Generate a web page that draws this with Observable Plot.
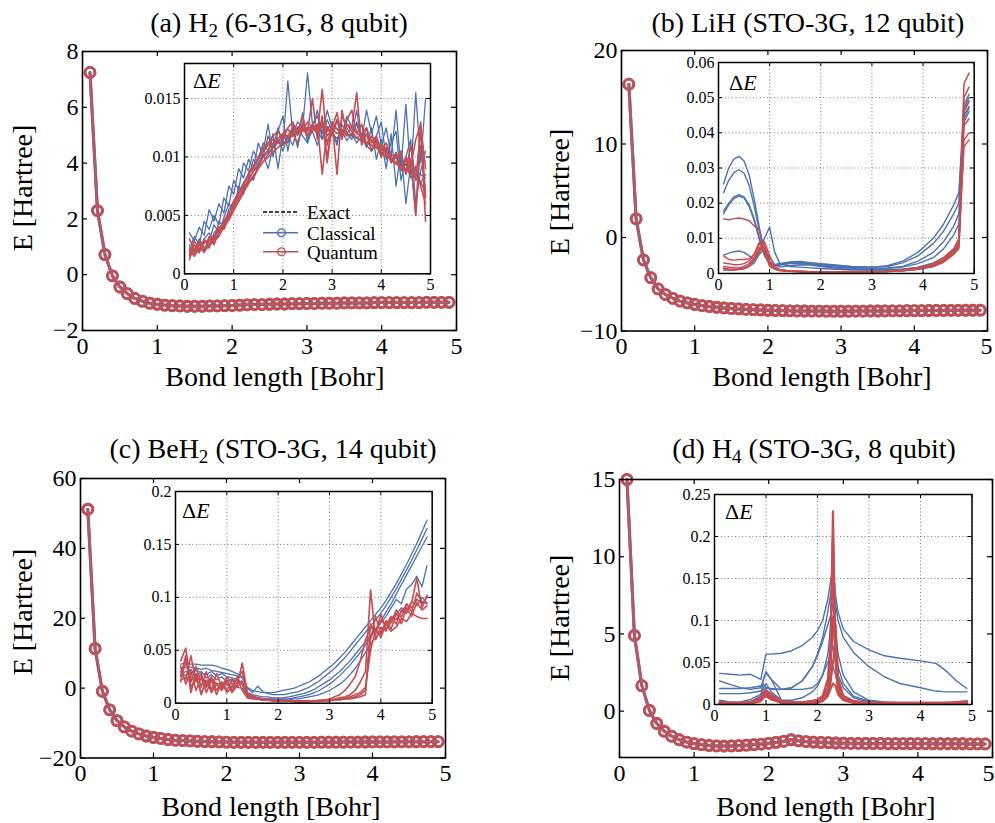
<!DOCTYPE html>
<html><head><meta charset="utf-8">
<script src="https://cdn.jsdelivr.net/npm/d3@7"></script>
<script src="https://cdn.jsdelivr.net/npm/@observablehq/plot@0.6"></script>
<style>
body{margin:0;background:#fff;}
#root{position:relative;width:995px;height:823px;overflow:hidden;font-family:"Liberation Serif","Times New Roman",serif;color:#000;}
.t{position:absolute;white-space:nowrap;line-height:1;}
.c{transform:translate(-50%,-50%);}
.r{transform:translate(-50%,-50%) rotate(-90deg);}
.l{transform:translate(0,-50%);}
sub{font-size:0.68em;vertical-align:-0.28em;line-height:0;}
</style></head>
<body><div id="root"></div>
<script>
const FONT = '"Liberation Serif","Times New Roman",serif';
const BLUE = "#4c72b0";
const RED = "#c44e52";

// ---------- tick labels ----------
const xTicksMain = [0, 1, 2, 3, 4, 5];
const xTicksInset = [0, 1, 2, 3, 4, 5];
const yTicksH2 = [-2, 0, 2, 4, 6, 8];
const yTicksLiH = [-10, 0, 10, 20];
const yTicksBeH2 = [-20, 0, 20, 40, 60];
const yTicksH4 = [0, 5, 10, 15];
const insetTicksH2 = [0, 0.005, 0.01, 0.015];
const insetTicksLiH = [0, 0.01, 0.02, 0.03, 0.04, 0.05, 0.06];
const insetTicksBeH2 = [0, 0.05, 0.1, 0.15, 0.2];
const insetTicksH4 = [0, 0.05, 0.1, 0.15, 0.2, 0.25];

// ---------- bond lengths [Bohr] ----------
const bondLength = [0.1,0.2,0.3,0.4,0.5,0.6,0.7,0.8,0.9,1.0,
  1.1,1.2,1.3,1.4,1.5,1.6,1.7,1.8,1.9,2.0,
  2.1,2.2,2.3,2.4,2.5,2.6,2.7,2.8,2.9,3.0,
  3.1,3.2,3.3,3.4,3.5,3.6,3.7,3.8,3.9,4.0,
  4.1,4.2,4.3,4.4,4.5,4.6,4.7,4.8,4.9];

// ---------- energies [Hartree] (exact / classical / quantum coincide at this scale) ----------
const energyH2 = [7.25,2.30,0.72,-0.04,-0.44,-0.68,-0.85,-0.95,-1.02,-1.06,
  -1.09,-1.11,-1.12,-1.13,-1.13,-1.13,-1.12,-1.12,-1.11,-1.10,
  -1.09,-1.08,-1.07,-1.07,-1.06,-1.05,-1.05,-1.04,-1.04,-1.03,
  -1.03,-1.02,-1.02,-1.02,-1.01,-1.01,-1.01,-1.01,-1.00,-1.00,
  -1.00,-1.00,-1.00,-1.00,-1.00,-0.99,-0.99,-0.99,-0.99];
const energyLiH = [16.4,2.0,-2.4,-4.3,-5.5,-6.1,-6.5,-6.8,-7.0,-7.15,
  -7.28,-7.38,-7.46,-7.53,-7.59,-7.64,-7.68,-7.72,-7.75,-7.78,
  -7.80,-7.82,-7.84,-7.85,-7.86,-7.87,-7.87,-7.88,-7.88,-7.88,
  -7.88,-7.87,-7.87,-7.86,-7.86,-7.85,-7.84,-7.84,-7.83,-7.82,
  -7.82,-7.81,-7.80,-7.80,-7.79,-7.79,-7.78,-7.78,-7.77];
const energyBeH2 = [51.2,11.3,-0.9,-6.2,-9.3,-11.1,-12.3,-13.1,-13.7,-14.1,
  -14.4,-14.7,-14.9,-15.0,-15.1,-15.2,-15.3,-15.35,-15.4,-15.45,
  -15.5,-15.5,-15.5,-15.5,-15.5,-15.5,-15.5,-15.5,-15.5,-15.5,
  -15.5,-15.5,-15.48,-15.47,-15.46,-15.45,-15.44,-15.43,-15.42,-15.41,
  -15.4,-15.39,-15.38,-15.37,-15.36,-15.35,-15.34,-15.33,-15.32];
const energyH4 = [15.0,4.9,1.65,0.05,-0.8,-1.3,-1.62,-1.85,-2.0,-2.1,
  -2.17,-2.22,-2.25,-2.26,-2.25,-2.23,-2.20,-2.17,-2.13,-2.08,
  -2.02,-1.95,-1.85,-1.92,-1.97,-2.0,-2.02,-2.04,-2.06,-2.07,
  -2.08,-2.08,-2.09,-2.09,-2.09,-2.10,-2.10,-2.10,-2.10,-2.10,
  -2.10,-2.11,-2.11,-2.11,-2.11,-2.11,-2.12,-2.12,-2.12];

// ---------- inset ΔE, H2 (x = bondLength) ----------
const dE_H2_classical = [
 [.0035,.0028,.0040,.0033,.0055,.0045,.0060,.0052,.0075,.0068,
  .0090,.0082,.0098,.0090,.0112,.0100,.0118,.0108,.0125,.0110,
  .0165,.0120,.0130,.0125,.0172,.0128,.0135,.0120,.0140,.0125,
  .0130,.0118,.0135,.0125,.0128,.0115,.0140,.0120,.0135,.0110,
  .0125,.0100,.0140,.0090,.0145,.0085,.0155,.0095,.0150],
 [.0020,.0032,.0025,.0045,.0038,.0050,.0042,.0065,.0058,.0080,
  .0072,.0095,.0088,.0105,.0098,.0112,.0105,.0120,.0090,.0118,
  .0112,.0125,.0108,.0130,.0115,.0122,.0110,.0130,.0118,.0124,
  .0112,.0128,.0120,.0115,.0130,.0118,.0108,.0125,.0098,.0115,
  .0090,.0120,.0075,.0105,.0060,.0095,.0050,.0110,.0070],
 [.0015,.0022,.0018,.0030,.0035,.0028,.0045,.0040,.0055,.0062,
  .0070,.0078,.0085,.0080,.0095,.0102,.0090,.0110,.0115,.0105,
  .0118,.0110,.0125,.0118,.0112,.0128,.0122,.0115,.0126,.0120,
  .0116,.0122,.0114,.0120,.0112,.0118,.0110,.0105,.0112,.0100,
  .0106,.0095,.0100,.0088,.0094,.0082,.0090,.0078,.0085],
 [.0025,.0015,.0030,.0022,.0028,.0042,.0035,.0048,.0060,.0055,
  .0075,.0068,.0082,.0098,.0092,.0105,.0128,.0100,.0122,.0135,
  .0105,.0128,.0118,.0138,.0112,.0125,.0140,.0115,.0132,.0122,
  .0110,.0135,.0125,.0118,.0140,.0112,.0125,.0105,.0118,.0130,
  .0098,.0112,.0122,.0080,.0100,.0115,.0060,.0088,.0105],
 [.0018,.0025,.0020,.0028,.0025,.0032,.0038,.0045,.0050,.0058,
  .0065,.0072,.0080,.0088,.0094,.0100,.0104,.0108,.0112,.0115,
  .0118,.0120,.0122,.0124,.0125,.0126,.0127,.0127,.0126,.0125,
  .0124,.0122,.0120,.0118,.0116,.0114,.0112,.0110,.0108,.0106,
  .0104,.0102,.0100,.0097,.0094,.0091,.0088,.0085,.0082]];
const dE_H2_quantum = [
 [.0022,.0018,.0025,.0020,.0028,.0030,.0035,.0042,.0050,.0060,
  .0068,.0075,.0085,.0090,.0098,.0105,.0110,.0115,.0112,.0120,
  .0118,.0125,.0120,.0128,.0122,.0150,.0115,.0135,.0095,.0130,
  .0085,.0140,.0120,.0125,.0155,.0110,.0120,.0105,.0115,.0100,
  .0108,.0095,.0102,.0090,.0098,.0085,.0092,.0075,.0060],
 [.0012,.0025,.0018,.0030,.0022,.0035,.0040,.0038,.0048,.0055,
  .0062,.0070,.0078,.0082,.0090,.0096,.0102,.0108,.0114,.0110,
  .0116,.0120,.0112,.0125,.0118,.0122,.0128,.0085,.0126,.0118,
  .0132,.0122,.0128,.0125,.0120,.0118,.0112,.0115,.0108,.0110,
  .0102,.0098,.0095,.0090,.0088,.0110,.0080,.0125,.0045],
 [.0030,.0020,.0028,.0018,.0032,.0026,.0038,.0045,.0052,.0058,
  .0065,.0073,.0080,.0088,.0092,.0100,.0106,.0112,.0116,.0120,
  .0124,.0118,.0126,.0122,.0130,.0125,.0120,.0158,.0110,.0130,
  .0124,.0118,.0128,.0122,.0116,.0120,.0125,.0112,.0118,.0106,
  .0112,.0100,.0094,.0105,.0085,.0098,.0050,.0130,.0065],
 [.0020,.0015,.0022,.0019,.0024,.0028,.0032,.0040,.0046,.0054,
  .0062,.0070,.0077,.0084,.0090,.0096,.0100,.0104,.0108,.0112,
  .0115,.0118,.0120,.0122,.0123,.0125,.0124,.0126,.0122,.0124,
  .0120,.0122,.0118,.0120,.0116,.0114,.0112,.0110,.0108,.0104,
  .0100,.0098,.0094,.0092,.0090,.0086,.0082,.0078,.0070],
 [.0016,.0028,.0022,.0026,.0030,.0025,.0036,.0044,.0050,.0062,
  .0070,.0076,.0086,.0092,.0100,.0108,.0112,.0118,.0122,.0115,
  .0125,.0130,.0120,.0135,.0118,.0128,.0122,.0130,.0100,.0125,
  .0138,.0115,.0132,.0140,.0120,.0128,.0110,.0118,.0112,.0102,
  .0108,.0096,.0104,.0090,.0100,.0092,.0115,.0128,.0090]];

// ---------- inset ΔE, LiH ----------
const bondLengthLiH = [0.1,0.2,0.3,0.4,0.5,0.6,0.7,0.8,0.9,1.0,1.1,1.2,1.4,1.6,1.8,2.0,2.3,2.6,3.0,3.3,3.6,3.9,4.2,4.4,4.6,4.7,4.8,4.9];
const dE_LiH_classical = [
 [.0255,.0300,.0325,.0333,.0320,.0280,.0210,.0130,.0060,.0030,.0025,.0028,.0032,.0032,.0029,.0026,.0022,.0019,.0018,.0022,.0035,.0060,.0100,.0140,.0195,.0230,.0480,.0510],
 [.0230,.0265,.0287,.0295,.0285,.0250,.0190,.0120,.0055,.0030,.0025,.0028,.0033,.0034,.0031,.0028,.0024,.0020,.0018,.0020,.0030,.0050,.0085,.0120,.0170,.0200,.0470,.0500],
 [.0170,.0195,.0213,.0220,.0215,.0190,.0150,.0095,.0050,.0028,.0022,.0025,.0030,.0030,.0027,.0024,.0020,.0017,.0015,.0016,.0020,.0035,.0060,.0090,.0135,.0170,.0460,.0490],
 [.0178,.0200,.0218,.0224,.0218,.0195,.0155,.0100,.0055,.0030,.0022,.0024,.0028,.0028,.0026,.0022,.0018,.0015,.0013,.0014,.0018,.0028,.0045,.0070,.0110,.0140,.0450,.0475],
 [.0052,.0058,.0062,.0064,.0060,.0050,.0040,.0060,.0100,.0132,.0060,.0028,.0020,.0018,.0016,.0014,.0012,.0010,.0010,.0010,.0012,.0018,.0030,.0045,.0070,.0090,.0440,.0470],
 [.0012,.0010,.0010,.0012,.0015,.0020,.0030,.0055,.0070,.0045,.0025,.0018,.0022,.0025,.0024,.0020,.0015,.0012,.0010,.0010,.0012,.0016,.0025,.0038,.0060,.0080,.0430,.0460]];
const dE_LiH_quantum = [
 [.0155,.0153,.0156,.0158,.0155,.0150,.0135,.0125,.0060,.0020,.0012,.0008,.0006,.0005,.0005,.0005,.0005,.0005,.0005,.0006,.0008,.0012,.0020,.0032,.0055,.0075,.0380,.0400],
 [.0050,.0040,.0038,.0040,.0040,.0042,.0055,.0090,.0070,.0030,.0015,.0010,.0007,.0006,.0005,.0005,.0005,.0005,.0005,.0006,.0009,.0015,.0025,.0040,.0065,.0085,.0540,.0570],
 [.0030,.0028,.0025,.0025,.0028,.0035,.0055,.0085,.0065,.0028,.0014,.0009,.0007,.0006,.0005,.0005,.0005,.0005,.0005,.0006,.0008,.0013,.0022,.0036,.0060,.0090,.0500,.0530],
 [.0015,.0013,.0012,.0012,.0015,.0022,.0040,.0070,.0080,.0035,.0015,.0010,.0007,.0006,.0005,.0005,.0005,.0005,.0006,.0007,.0010,.0016,.0028,.0045,.0070,.0100,.0420,.0440],
 [.0010,.0010,.0010,.0011,.0013,.0020,.0038,.0060,.0090,.0050,.0020,.0010,.0007,.0006,.0005,.0005,.0005,.0005,.0005,.0006,.0009,.0014,.0024,.0038,.0062,.0080,.0360,.0380],
 [.0020,.0018,.0016,.0016,.0020,.0028,.0045,.0075,.0060,.0025,.0013,.0009,.0007,.0006,.0005,.0005,.0005,.0005,.0005,.0006,.0008,.0012,.0020,.0033,.0055,.0070,.0460,.0490]];

// ---------- inset ΔE, BeH2 (x = bondLength) ----------
const dE_BeH2_classical = [
 [.037,.038,.037,.037,.036,.036,.036,.035,.033,.032,
  .030,.028,.025,.015,.012,.011,.010,.010,.010,.011,
  .012,.013,.014,.016,.018,.020,.023,.026,.030,.034,
  .038,.043,.048,.054,.060,.066,.072,.078,.084,.090,
  .097,.105,.113,.122,.131,.141,.151,.162,.173],
 [.033,.034,.034,.033,.032,.033,.031,.030,.029,.028,
  .027,.026,.024,.014,.010,.016,.011,.009,.008,.008,
  .008,.009,.010,.011,.013,.015,.018,.021,.025,.029,
  .033,.038,.043,.049,.055,.061,.067,.073,.079,.085,
  .092,.100,.108,.117,.126,.135,.145,.155,.165],
 [.027,.030,.028,.031,.029,.027,.030,.026,.028,.025,
  .024,.022,.020,.010,.008,.007,.006,.006,.005,.005,
  .005,.006,.007,.008,.009,.011,.013,.016,.019,.022,
  .026,.030,.035,.040,.046,.052,.058,.064,.070,.076,
  .082,.090,.098,.094,.108,.112,.120,.110,.130],
 [.022,.024,.025,.023,.022,.021,.020,.019,.018,.017,
  .016,.015,.014,.008,.006,.005,.004,.004,.004,.004,
  .004,.004,.005,.006,.007,.008,.010,.012,.015,.018,
  .022,.026,.031,.036,.042,.048,.055,.062,.070,.078,
  .086,.094,.103,.112,.121,.130,.139,.148,.157],
 [.030,.026,.032,.025,.030,.024,.027,.022,.025,.020,
  .023,.019,.021,.007,.005,.004,.003,.003,.003,.003,
  .003,.003,.004,.004,.005,.006,.007,.008,.010,.012,
  .015,.018,.022,.027,.033,.040,.048,.056,.062,.068,
  .074,.080,.084,.090,.088,.096,.092,.100,.095]];
const dE_BeH2_quantum = [
 [.040,.052,.020,.035,.015,.030,.012,.028,.015,.025,
  .018,.022,.030,.008,.006,.005,.004,.003,.003,.002,
  .002,.002,.002,.002,.002,.002,.002,.003,.003,.003,
  .004,.005,.006,.008,.012,.020,.030,.107,.060,.072,
  .068,.080,.075,.088,.085,.095,.118,.090,.102],
 [.025,.045,.010,.028,.008,.022,.010,.018,.012,.020,
  .010,.016,.038,.010,.007,.005,.004,.004,.003,.003,
  .003,.002,.002,.002,.002,.002,.002,.002,.003,.003,
  .003,.004,.004,.005,.006,.008,.012,.060,.082,.065,
  .078,.070,.085,.075,.090,.082,.095,.088,.092],
 [.035,.018,.030,.012,.025,.010,.022,.008,.020,.012,
  .022,.015,.020,.006,.005,.004,.003,.003,.002,.002,
  .002,.002,.001,.001,.001,.001,.002,.002,.002,.002,
  .003,.004,.005,.006,.008,.010,.015,.050,.070,.062,
  .075,.068,.072,.080,.077,.085,.082,.080,.080],
 [.020,.040,.015,.025,.010,.018,.025,.012,.020,.010,
  .015,.025,.012,.005,.004,.004,.003,.003,.002,.002,
  .002,.002,.002,.001,.001,.002,.002,.002,.003,.004,
  .006,.008,.012,.018,.025,.040,.060,.072,.068,.078,
  .074,.082,.079,.086,.093,.090,.098,.094,.100],
 [.030,.022,.045,.020,.028,.015,.024,.018,.014,.022,
  .012,.020,.018,.006,.005,.004,.003,.003,.003,.002,
  .002,.002,.002,.002,.002,.002,.002,.002,.002,.003,
  .003,.003,.004,.004,.005,.006,.008,.075,.065,.084,
  .070,.076,.088,.081,.094,.086,.104,.096,.094]];

// ---------- inset ΔE, H4 ----------
const bondLengthH4 = [0.1,0.3,0.5,0.7,0.9,0.95,1.0,1.1,1.3,1.5,1.7,1.9,2.0,2.1,2.2,2.25,2.3,2.35,2.4,2.5,2.7,3.0,3.3,3.6,4.0,4.3,4.5,4.7,4.9];
const dE_H4_classical = [
 [.037,.036,.035,.036,.030,.045,.060,.060,.061,.064,.070,.080,.088,.100,.125,.145,.165,.130,.110,.090,.075,.065,.058,.055,.052,.049,.040,.028,.019],
 [.028,.024,.020,.018,.020,.030,.038,.030,.018,.020,.028,.045,.060,.080,.110,.130,.150,.120,.100,.080,.062,.045,.033,.025,.020,.016,.015,.015,.015],
 [.019,.019,.019,.020,.022,.024,.020,.018,.018,.020,.028,.045,.058,.075,.095,.105,.120,.090,.060,.035,.015,.005,.003,.002,.002,.002,.002,.002,.002],
 [.013,.013,.013,.014,.016,.018,.020,.019,.018,.018,.018,.020,.025,.035,.050,.060,.070,.050,.035,.020,.008,.003,.002,.002,.002,.002,.002,.002,.002],
 [.005,.003,.002,.003,.010,.030,.039,.030,.005,.003,.003,.004,.006,.010,.020,.030,.045,.035,.020,.010,.004,.002,.001,.001,.001,.001,.001,.001,.001],
 [.002,.002,.003,.006,.012,.020,.025,.015,.005,.005,.008,.015,.022,.035,.060,.090,.145,.080,.045,.025,.010,.004,.002,.002,.001,.001,.001,.001,.001]];
const dE_H4_quantum = [
 [.003,.002,.002,.003,.008,.013,.017,.010,.003,.002,.002,.003,.004,.006,.015,.040,.230,.050,.015,.006,.003,.002,.002,.002,.002,.002,.002,.003,.004],
 [.002,.001,.001,.002,.007,.012,.015,.009,.002,.002,.002,.004,.005,.008,.020,.050,.105,.060,.020,.008,.003,.002,.001,.001,.001,.001,.002,.002,.003],
 [.001,.001,.001,.002,.006,.010,.013,.008,.002,.002,.002,.002,.003,.006,.018,.045,.090,.095,.030,.010,.004,.002,.001,.001,.001,.001,.001,.002,.002],
 [.002,.001,.001,.002,.005,.009,.012,.007,.002,.001,.001,.002,.003,.005,.012,.025,.050,.070,.025,.008,.003,.001,.001,.001,.001,.001,.001,.001,.002],
 [.001,.001,.001,.001,.004,.008,.010,.006,.002,.001,.001,.001,.002,.004,.010,.018,.025,.022,.012,.005,.002,.001,.001,.001,.001,.001,.001,.001,.003],
 [.002,.002,.002,.003,.008,.015,.017,.012,.004,.003,.003,.004,.006,.010,.030,.070,.200,.080,.030,.010,.004,.002,.002,.002,.002,.002,.002,.002,.003]];

// ---------- text ----------
const titles = [
  "(a) H<sub>2</sub> (6-31G, 8 qubit)",
  "(b) LiH (STO-3G, 12 qubit)",
  "(c) BeH<sub>2</sub> (STO-3G, 14 qubit)",
  "(d) H<sub>4</sub> (STO-3G, 8 qubit)"];
const xLabel = "Bond length [Bohr]";
const yLabel = "E [Hartree]";
const legendLabels = ["Exact", "Classical", "Quantum"];

// ---------- helpers ----------
const root = document.getElementById("root");
function place(el, left, top) {
  el.style.position = "absolute";
  el.style.left = left + "px";
  el.style.top = top + "px";
  root.appendChild(el);
}
function text(html, x, y, cls, size) {
  const d = document.createElement("div");
  d.className = "t " + cls;
  d.innerHTML = html;
  d.style.left = x + "px";
  d.style.top = y + "px";
  d.style.fontSize = size + "px";
  root.appendChild(d);
}
const fmtSigned = d => (d < 0 ? "\u2212" + Math.abs(d) : String(d));
const fmtInset = d => String(+d.toFixed(4));

function inward(xt, yt, w, h, len, sw) {
  return [
    Plot.tickX(xt, {x: d => d, insetTop: h - len, stroke: "black", strokeWidth: sw}),
    Plot.tickX(xt, {x: d => d, insetBottom: h - len, stroke: "black", strokeWidth: sw}),
    Plot.tickY(yt, {y: d => d, insetRight: w - len, stroke: "black", strokeWidth: sw}),
    Plot.tickY(yt, {y: d => d, insetLeft: w - len, stroke: "black", strokeWidth: sw})
  ];
}

function mainPanel(frame, yDomain, yTicks, energy, lastDx = 0) {
  const [fl, ft, fr, fb] = frame;
  const pL = 80, pT = 12, pR = 4, pB = 40;
  const w = fr - fl, h = fb - ft;
  const pts = bondLength.map((x, i) => ({x, e: energy[i]}));
  const svg = Plot.plot({
    width: w + pL + pR, height: h + pT + pB,
    marginLeft: pL, marginTop: pT, marginRight: pR, marginBottom: pB,
    style: {fontFamily: FONT, fontSize: "24px", background: "transparent", overflow: "visible", color: "black"},
    x: {domain: [0, 5]}, y: {domain: yDomain},
    marks: [
      Plot.line(pts, {x: "x", y: "e", stroke: BLUE, strokeWidth: 3}),
      Plot.dot(pts, {x: "x", y: "e", r: 5, stroke: BLUE, strokeWidth: 2.8}),
      Plot.line(pts, {x: "x", y: "e", stroke: RED, strokeWidth: 3}),
      Plot.dot(pts, {x: "x", y: "e", r: 5, stroke: RED, strokeWidth: 2.8}),
      Plot.line(pts, {x: "x", y: "e", stroke: "#6a7fb0", strokeWidth: 0.8, strokeDasharray: "2,2"}),
      ...inward(xTicksMain, yTicks, w, h, 5, 1.2),
      Plot.axisX(xTicksMain.slice(0, -1), {tickSize: 0, tickPadding: 6, label: null}),
      Plot.axisX(xTicksMain.slice(-1), {tickSize: 0, tickPadding: 6, label: null, dx: lastDx}),
      Plot.axisY(yTicks, {tickSize: 0, tickPadding: 4, label: null, tickFormat: fmtSigned}),
      Plot.frame({stroke: "black", strokeWidth: 1.6})
    ]
  });
  place(svg, fl - pL, ft - pT);
}

function insetPanel(frame, yDomain, yTicks, xs, classical, quantum, bw, rw) {
  const [fl, ft, fr, fb] = frame;
  const pL = 52, pT = 12, pR = 10, pB = 26;
  const w = fr - fl, h = fb - ft;
  const flat = (runs, tag) => runs.flatMap((ys, k) => xs.map((x, i) => ({x, y: ys[i], run: tag + k})));
  const grid = {stroke: "#666", strokeOpacity: 1, strokeWidth: 0.9, strokeDasharray: "1,2.5"};
  const svg = Plot.plot({
    width: w + pL + pR, height: h + pT + pB,
    marginLeft: pL, marginTop: pT, marginRight: pR, marginBottom: pB,
    style: {fontFamily: FONT, fontSize: "16px", background: "transparent", overflow: "visible", color: "black"},
    x: {domain: [0, 5]}, y: {domain: yDomain},
    marks: [
      Plot.frame({fill: "white", stroke: null}),
      Plot.gridX(xTicksInset, grid),
      Plot.gridY(yTicks, grid),
      Plot.line(flat(classical, "c"), {x: "x", y: "y", z: "run", stroke: BLUE, strokeWidth: bw, clip: true}),
      Plot.line(flat(quantum, "q"), {x: "x", y: "y", z: "run", stroke: RED, strokeWidth: rw, clip: true}),
      ...inward(xTicksInset, yTicks, w, h, 4, 1),
      Plot.axisX(xTicksInset, {tickSize: 0, tickPadding: 5, label: null}),
      Plot.axisY(yTicks, {tickSize: 0, tickPadding: 4, label: null, tickFormat: fmtInset}),
      Plot.frame({stroke: "black", strokeWidth: 1.5})
    ]
  });
  place(svg, fl - pL, ft - pT);
}

// ---------- main panels ----------
mainPanel([82, 51, 456, 330], [-2, 8], yTicksH2, energyH2);
mainPanel([621, 49.5, 987, 330], [-10, 20], yTicksLiH, energyLiH, -1);
mainPanel([80, 477.5, 445, 757], [-20, 60], yTicksBeH2, energyBeH2);
mainPanel([618.5, 479, 991.5, 757], [-3, 15], yTicksH4, energyH4, -4);

// ---------- insets ----------
insetPanel([183.5, 62.7, 429.5, 273], [0, 0.018], insetTicksH2, bondLength, dE_H2_classical, dE_H2_quantum, 1.3, 1.6);
insetPanel([718.3, 61.7, 974, 272.7], [0, 0.06], insetTicksLiH, bondLengthLiH, dE_LiH_classical, dE_LiH_quantum, 1.4, 1.5);
insetPanel([175, 491, 431.7, 702.7], [0, 0.2], insetTicksBeH2, bondLength, dE_BeH2_classical, dE_BeH2_quantum, 1.3, 1.6);
insetPanel([714, 493.5, 971.5, 703.5], [0, 0.25], insetTicksH4, bondLengthH4, dE_H4_classical, dE_H4_quantum, 1.4, 2.2);

// ---------- titles & labels ----------
text(titles[0], 279, 23, "c", 28);
text(titles[1], 808, 23, "c", 28);
text(titles[2], 273, 449, "c", 28);
text(titles[3], 814, 449, "c", 28);
text(xLabel, 275, 377, "c", 28);
text(xLabel, 822, 377, "c", 28);
text(xLabel, 271, 807, "c", 28);
text(xLabel, 826, 807, "c", 28);
text(yLabel, 23, 188, "r", 28);
text(yLabel, 560, 192, "r", 28);
text(yLabel, 23, 612, "r", 28);
text(yLabel, 560, 618, "r", 28);

// ΔE labels
const dEhtml = "\u0394<i>E</i>";
text(dEhtml, 193, 81, "l", 22);
text(dEhtml, 729, 83, "l", 22);
text(dEhtml, 182, 511, "l", 22);
text(dEhtml, 725, 512, "l", 22);

// ---------- legend in inset (a) ----------
const ns = "http://www.w3.org/2000/svg";
const lg = document.createElementNS(ns, "svg");
lg.setAttribute("width", 50); lg.setAttribute("height", 60);
const legendStyles = [
  {stroke: "black", dash: "4,2", circle: false},
  {stroke: BLUE, dash: null, circle: true},
  {stroke: RED, dash: null, circle: true}];
const legendY = [12, 32.7, 51.7];
legendStyles.forEach((s, i) => {
  const ln = document.createElementNS(ns, "line");
  ln.setAttribute("x1", 8); ln.setAttribute("x2", 43);
  ln.setAttribute("y1", legendY[i]); ln.setAttribute("y2", legendY[i]);
  ln.setAttribute("stroke", s.stroke); ln.setAttribute("stroke-width", 1.5);
  if (s.dash) ln.setAttribute("stroke-dasharray", s.dash);
  lg.appendChild(ln);
  if (s.circle) {
    const c = document.createElementNS(ns, "circle");
    c.setAttribute("cx", 26.5); c.setAttribute("cy", legendY[i]); c.setAttribute("r", 3.8);
    c.setAttribute("fill", "none"); c.setAttribute("stroke", s.stroke); c.setAttribute("stroke-width", 1.4);
    lg.appendChild(c);
  }
  text(legendLabels[i], 307, 200 + legendY[i], "l", 19);
});
place(lg, 255, 200);
</script>
</body></html>
